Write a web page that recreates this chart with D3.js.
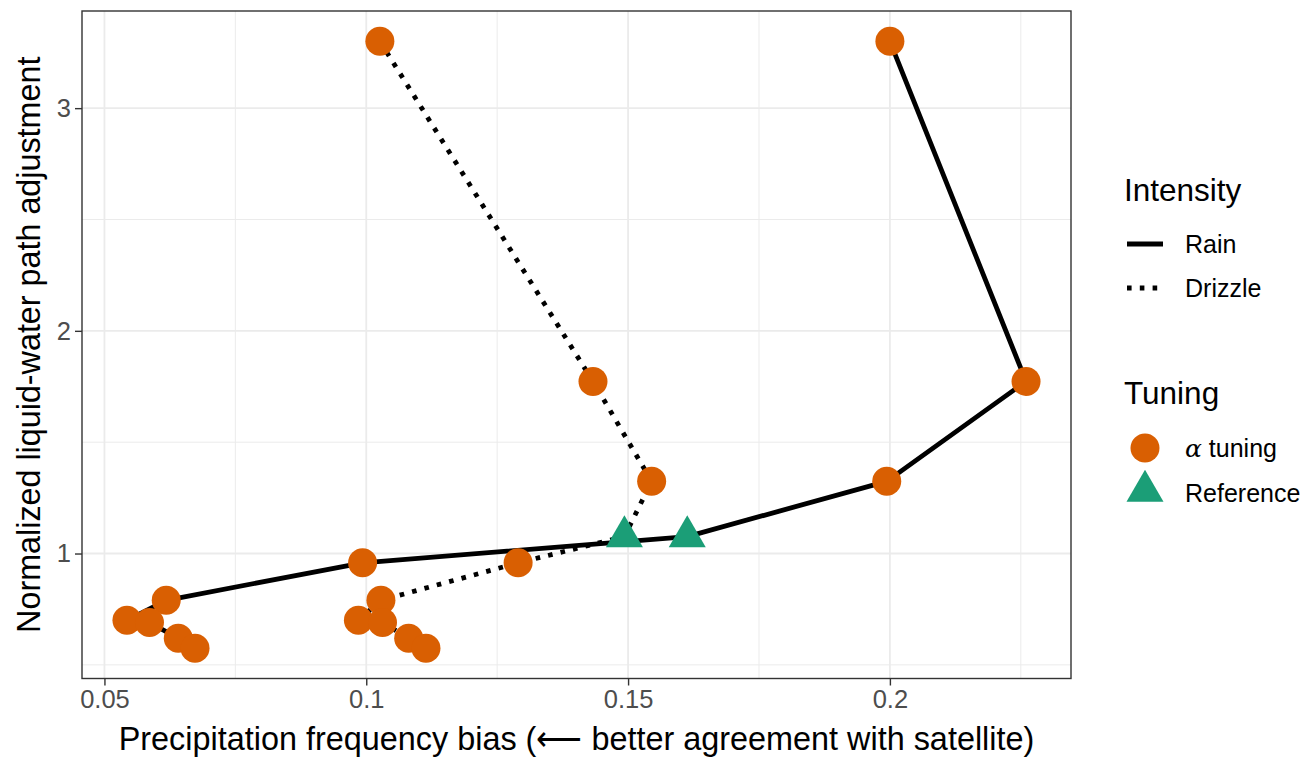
<!DOCTYPE html>
<html>
<head>
<meta charset="utf-8">
<script src="https://cdn.jsdelivr.net/npm/d3@7"></script>
<style>
  body { margin: 0; background: #fff; }
  text { font-family: "Liberation Sans", Arial, sans-serif; }
</style>
</head>
<body>
<svg id="chart" width="1306" height="760"></svg>
<script>
// ---- data ----
const intensities = ["Rain", "Drizzle"];
const lwpAdjustment = [3.3, 1.773, 1.324, 1.076, 0.958, 0.79, 0.70, 0.69, 0.62, 0.575];
const rainBias = [0.2000, 0.2260, 0.1994, 0.1613, 0.0993, 0.0618, 0.0543, 0.0586, 0.0641, 0.0673];
const drizzleBias = [0.1026, 0.1433, 0.1545, 0.1493, 0.1290, 0.1028, 0.0985, 0.1031, 0.1081, 0.1114];
const tuningType = ["alpha", "alpha", "alpha", "ref", "alpha", "alpha", "alpha", "alpha", "alpha", "alpha"];
const xTicks = [0.05, 0.1, 0.15, 0.2];
const xTickLabels = ["0.05", "0.1", "0.15", "0.2"];
const yTicks = [1, 2, 3];
const yTickLabels = ["1", "2", "3"];
const xMinor = [0.075, 0.125, 0.175, 0.225];
const yMinor = [0.5, 1.5, 2.5];

const biasBySeries = { Rain: rainBias, Drizzle: drizzleBias };
const rows = [];
intensities.forEach(s => {
  biasBySeries[s].forEach((b, i) => rows.push({ s, x: b, y: lwpAdjustment[i], t: tuningType[i] }));
});

// ---- layout ----
const svg = d3.select("#chart");
const P = { left: 82, top: 11, right: 1071, bottom: 678.5 };
const ORANGE = "#D95F02", GREEN = "#1B9E77";
const LW = 4.8;

function expand(ext, f) { const r = ext[1] - ext[0]; return [ext[0] - r * f, ext[1] + r * f]; }
const x = d3.scaleLinear().domain(expand(d3.extent(rows, d => d.x), 0.05)).range([P.left, P.right]);
const y = d3.scaleLinear().domain(expand(d3.extent(rows, d => d.y), 0.05)).range([P.bottom, P.top]);

// panel background grid
const grid = svg.append("g");
grid.selectAll(".xm").data(xMinor).join("line")
  .attr("x1", d => x(d)).attr("x2", d => x(d)).attr("y1", P.top).attr("y2", P.bottom)
  .attr("stroke", "#EBEBEB").attr("stroke-width", 1);
grid.selectAll(".ym").data(yMinor).join("line")
  .attr("y1", d => y(d)).attr("y2", d => y(d)).attr("x1", P.left).attr("x2", P.right)
  .attr("stroke", "#EBEBEB").attr("stroke-width", 1);
grid.selectAll(".xM").data(xTicks).join("line")
  .attr("x1", d => x(d)).attr("x2", d => x(d)).attr("y1", P.top).attr("y2", P.bottom)
  .attr("stroke", "#EBEBEB").attr("stroke-width", 1.8);
grid.selectAll(".yM").data(yTicks).join("line")
  .attr("y1", d => y(d)).attr("y2", d => y(d)).attr("x1", P.left).attr("x2", P.right)
  .attr("stroke", "#EBEBEB").attr("stroke-width", 1.8);

// lines
const line = d3.line().x(d => x(d.x)).y(d => y(d.y));
const dash = { Rain: null, Drizzle: "4.6 8.2" };
intensities.forEach(s => {
  svg.append("path")
    .datum(rows.filter(r => r.s === s))
    .attr("d", line)
    .attr("fill", "none")
    .attr("stroke", "#000")
    .attr("stroke-width", LW)
    .attr("stroke-dasharray", dash[s])
    .attr("stroke-linejoin", "round")
    .attr("stroke-linecap", "butt");
});

// points
const circleSym = d3.symbol().type(d3.symbolCircle).size(Math.PI * 14.5 * 14.5);
const triSym = d3.symbol().type(d3.symbolTriangle).size(593);
svg.append("g").selectAll("path").data(rows).join("path")
  .attr("transform", d => `translate(${x(d.x)},${y(d.y)})`)
  .attr("d", d => d.t === "ref" ? triSym() : circleSym())
  .attr("fill", d => d.t === "ref" ? GREEN : ORANGE);

// panel border
svg.append("rect")
  .attr("x", P.left).attr("y", P.top)
  .attr("width", P.right - P.left).attr("height", P.bottom - P.top)
  .attr("fill", "none").attr("stroke", "#333333").attr("stroke-width", 1.4);

// axes
const xAxis = d3.axisBottom(x).tickValues(xTicks).tickFormat((d, i) => xTickLabels[i]).tickSize(7).tickPadding(4);
const yAxis = d3.axisLeft(y).tickValues(yTicks).tickFormat((d, i) => yTickLabels[i]).tickSize(7).tickPadding(4);
const gx = svg.append("g").attr("transform", `translate(0,${P.bottom})`).call(xAxis);
const gy = svg.append("g").attr("transform", `translate(${P.left},0)`).call(yAxis);
[gx, gy].forEach(g => {
  g.select(".domain").remove();
  g.selectAll(".tick line").attr("stroke", "#333333").attr("stroke-width", 1.4);
  g.selectAll(".tick text").attr("fill", "#4D4D4D").style("font-size", "25.5px")
    .style("font-family", '"Liberation Sans", Arial, sans-serif');
});

// axis titles
svg.append("text")
  .attr("x", (P.left + P.right) / 2).attr("y", 750)
  .attr("text-anchor", "middle").style("font-size", "32.4px").attr("fill", "#000")
  .text("Precipitation frequency bias (\u27F5 better agreement with satellite)");
svg.append("text")
  .attr("transform", `translate(40,${(P.top + P.bottom) / 2}) rotate(-90)`)
  .attr("text-anchor", "middle").style("font-size", "32.3px").attr("fill", "#000")
  .text("Normalized liquid-water path adjustment");

// legend
const lg = svg.append("g");
const legendKeyX = 1145, legendTextX = 1185;
lg.append("text").attr("x", 1124).attr("y", 201).style("font-size", "31.5px").text("Intensity");
const intensityKeysY = [244, 288];
intensities.forEach((s, i) => {
  lg.append("line")
    .attr("x1", 1127).attr("x2", 1163).attr("y1", intensityKeysY[i]).attr("y2", intensityKeysY[i])
    .attr("stroke", "#000").attr("stroke-width", LW).attr("stroke-dasharray", dash[s]);
  lg.append("text").attr("x", legendTextX).attr("y", intensityKeysY[i]).attr("dy", "0.36em")
    .style("font-size", "25px").text(s);
});
lg.append("text").attr("x", 1124).attr("y", 404).style("font-size", "31.5px").text("Tuning");
lg.append("path").attr("transform", `translate(${legendKeyX},448)`).attr("d", circleSym()).attr("fill", ORANGE);
lg.append("path").attr("transform", `translate(${legendKeyX},491)`).attr("d", triSym()).attr("fill", GREEN);
const t1 = lg.append("text").attr("x", legendTextX).attr("y", 448).attr("dy", "0.36em").style("font-size", "25px");
t1.append("tspan").style("font-family", '"DejaVu Serif", serif').style("font-style", "italic").text("\u03B1");
t1.append("tspan").text(" tuning");
lg.append("text").attr("x", legendTextX).attr("y", 493).attr("dy", "0.36em").style("font-size", "25px").text("Reference");
</script>
</body>
</html>
